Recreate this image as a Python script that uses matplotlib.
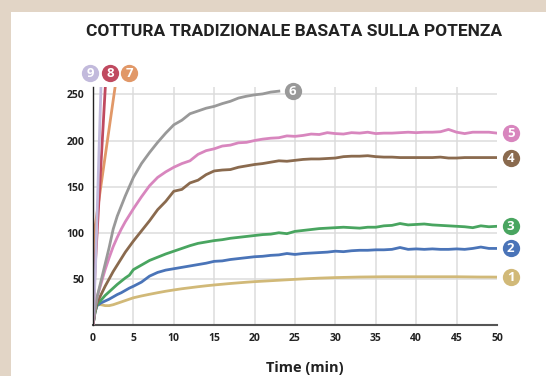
import numpy as np
import matplotlib.pyplot as plt
from matplotlib.patches import Rectangle

# time axis (min): finer at the start where the curves climb fast
t = [0, 0.25, 0.5, 1, 1.5, 2, 2.5, 3, 3.5, 4, 4.5] + list(range(5, 51))

s1 = [0, 14, 22, 22, 21, 21, 22, 23.5, 25, 26.5, 28,
      29.5, 31.5, 33.3, 35, 36.6, 38, 39.3, 40.4, 41.5, 42.5,
      43.4, 44.2, 45, 45.7, 46.4, 47, 47.5, 48, 48.5, 49,
      49.5, 50, 50.4, 50.8, 51.1, 51.4, 51.6, 51.8, 52, 52.1,
      52.2, 52.3, 52.3, 52.3, 52.3, 52.3, 52.3, 52.3, 52.3, 52.3,
      52.3, 52.2, 52.1, 52, 52, 51.9]
s2 = [0, 14, 21, 24, 26, 28, 30.5, 33, 35, 37.5, 40,
      42, 46.5, 53, 57, 59.5, 61, 62.5, 64, 65.5, 67,
      69, 69.5, 71, 72, 73, 74, 74.5, 75.5, 76, 77.5,
      76.5, 77.5, 78, 78.5, 79, 80, 79.5, 80.5, 81, 81,
      81.5, 81.5, 82, 84, 82, 82.5, 82, 82.5, 82, 82,
      82.5, 82, 83, 84.5, 83, 83]
s3 = [0, 14, 22, 27, 32, 36, 40, 44, 47.5, 51, 54,
      60, 65, 70, 73.5, 77, 80, 83, 86, 88.5, 90,
      91.5, 92.5, 94, 95, 96, 97, 98, 98.5, 100, 99,
      101.5, 102.5, 103.5, 104.5, 105, 105.5, 106, 105.5, 105, 106,
      106, 107.5, 108, 110, 108.5, 109, 109.5, 108.5, 108, 107.5,
      107, 106.5, 105.5, 107.5, 106.5, 107]
s4 = [0, 15, 24, 33, 42, 50, 58, 65, 72, 79, 85,
      91, 102, 113, 125, 134, 145, 147, 154, 157, 163,
      167, 168, 168.5, 171, 172.5, 174, 175, 176.5, 178, 177.5,
      178.5, 179.5, 180, 180, 180.5, 181, 182.5, 183, 183, 183.5,
      182.5, 182, 182, 181.5, 181.5, 181.5, 181.5, 181.5, 182, 181,
      181, 181.5, 181.5, 181.5, 181.5, 181.5]
s5 = [0, 18, 30, 45, 60, 73, 85, 95, 104, 112, 119,
      126, 139, 151, 160, 166, 171, 175, 178, 185, 189,
      191, 194, 195, 197.5, 198, 200, 201.5, 202.5, 203, 205,
      204.5, 205.5, 207, 206.5, 208.5, 207.5, 207, 208.5, 208, 209,
      207.5, 208, 208, 208.5, 209, 208.5, 209, 209, 209.5, 212,
      209, 207.5, 209, 209, 209, 208]
s6 = [0, 18, 30, 48, 66, 84, 104, 118, 129, 140, 150,
      160, 175, 187, 198, 208, 217, 222, 229, 232, 235,
      237, 240, 242.5, 246, 248, 249.5, 250.5, 252.5, 253.5]

# fast-rising runs, leaving the top of the plot
t7 = [0, 0.15, 2.8]
s7 = [0, 100, 262]
t8 = [0, 0.25, 1.55]
s8 = [0, 60, 262]
t9 = [0, 0.3, 1.0]
s9 = [0, 60, 262]

colors = {1: '#d1b978', 2: '#4a74b8', 3: '#49a560', 4: '#8a6a4e',
          5: '#d886be', 6: '#999999', 7: '#e19868', 8: '#c04a60',
          9: '#c2badc'}

fig = plt.figure(figsize=(5.46, 3.76), dpi=100)
fig.patch.set_facecolor('#e2d5c6')
fig.patches.append(Rectangle((11 / 546, 0), 1, (376 - 12) / 376,
                             transform=fig.transFigure,
                             facecolor='white', edgecolor='none', zorder=-1))

ax = fig.add_axes([93 / 546, 51 / 376, 404 / 546, 238 / 376])
ax.set_zorder(2)
ax.set_facecolor('none')
ax.set_xlim(0, 50)
ax.set_ylim(0, 258)

# grid
for x in range(5, 50, 5):
    ax.axvline(x, color='#dcdcdc', lw=1.1, zorder=1)
for y in range(50, 251, 50):
    ax.axhline(y, color='#dcdcdc', lw=1.1, zorder=1)

lw = 2.0
ax.plot(t, s1, color=colors[1], lw=lw, zorder=3)
ax.plot(t, s2, color=colors[2], lw=lw, zorder=3)
ax.plot(t, s3, color=colors[3], lw=lw, zorder=3)
ax.plot(t, s4, color=colors[4], lw=lw, zorder=3)
ax.plot(t, s5, color=colors[5], lw=lw, zorder=3)
ax.plot(t[:len(s6)], s6, color=colors[6], lw=lw, zorder=3)
ax.plot(t7, s7, color=colors[7], lw=lw, zorder=3)
ax.plot(t8, s8, color=colors[8], lw=lw, zorder=3)
ax.plot(t9, s9, color=colors[9], lw=lw, zorder=3)


def badge(x, y, n):
    ax.scatter([x], [y], s=155, color=colors[n], zorder=5, clip_on=False,
               linewidths=0)
    ax.text(x, y - 0.5, str(n), color='white', fontsize=9.5, fontweight='bold',
            family='Open Sans', ha='center', va='center', zorder=6,
            clip_on=False)


badge(51.7, s1[-1], 1)
badge(51.7, s2[-1], 2)
badge(51.7, s3[-1], 3)
badge(51.7, s4[-1], 4)
badge(51.7, s5[-1], 5)
badge(24.7, s6[-1], 6)
badge(4.5, 273.5, 7)
badge(2.1, 273.5, 8)
badge(-0.33, 273.5, 9)

for sp in ['top', 'right']:
    ax.spines[sp].set_visible(False)
ax.spines['left'].set_color('#222222')
ax.spines['left'].set_linewidth(1.0)
ax.spines['bottom'].set_color('#555555')
ax.spines['bottom'].set_linewidth(1.5)
ax.spines['left'].set_zorder(4)

ax.set_xticks(range(0, 51, 5))
ax.set_yticks(range(50, 251, 50))
ax.tick_params(length=0, pad=6, labelsize=7.5, labelcolor='#222222')
for lab in ax.get_xticklabels() + ax.get_yticklabels():
    lab.set_family('Open Sans')
    lab.set_fontweight('bold')

fig.text(294 / 546, 1 - 32 / 376, 'COTTURA TRADIZIONALE BASATA SULLA POTENZA',
         ha='center', va='center', fontsize=12.5, fontweight='bold',
         family='Roboto', color='#222222', zorder=3)
fig.text(305 / 546, 4 / 376, 'Time (min)', ha='center', va='baseline',
         fontsize=10.5, fontweight='bold', family='Open Sans', color='#222222',
         zorder=3)

fig.savefig('out.png', dpi=100, facecolor=fig.get_facecolor())
